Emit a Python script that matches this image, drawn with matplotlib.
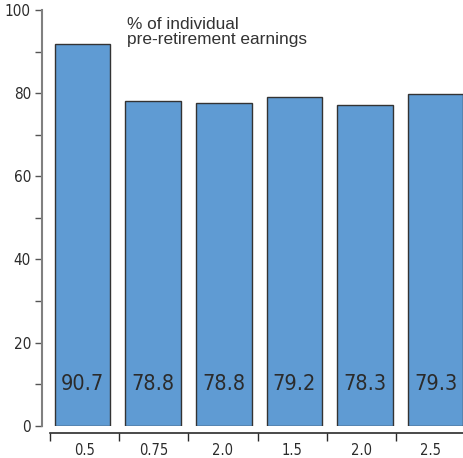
import matplotlib
matplotlib.use("Agg")
import matplotlib.pyplot as plt
from matplotlib.ticker import MultipleLocator, FixedLocator, NullFormatter

# bar heights as drawn, and the numbers printed in the bars
heights = [91.8, 78.1, 77.6, 79.0, 77.1, 79.9]
labels = ["90.7", "78.8", "78.8", "79.2", "78.3", "79.3"]
categories = ["0.5", "0.75", "2.0", "1.5", "2.0", "2.5"]
yticks = [0, 20, 40, 60, 80, 100]

bar_col = "#5f9bd3"
dark = "#2b2b2b"
narrow = dict(family="DejaVu Sans", stretch="condensed")

fig = plt.figure(figsize=(4.63, 4.58), dpi=100)
ax = fig.add_axes([42 / 463, 32.3 / 458, 421 / 463, 415.7 / 458])

xs = range(len(heights))
ax.bar(xs, heights, width=0.785, color=bar_col, edgecolor="#333333", linewidth=1.0, zorder=2)
for x, t in zip(xs, labels):
    ax.text(x, 10, t, ha="center", va="center", fontsize=15.5, color=dark, **narrow)

ax.set_xlim(-0.573, 5.386)
ax.set_ylim(0, 100)
for s in ["top", "right", "bottom"]:
    ax.spines[s].set_visible(False)
ax.spines["left"].set_color("#808080")
ax.spines["left"].set_linewidth(1.5)
ax.set_xticks([])
ax.set_yticks(yticks)
ax.yaxis.set_minor_locator(MultipleLocator(10))
ax.tick_params(axis="y", which="both", length=5, width=1, color="#555555", pad=3)
ax.tick_params(axis="y", which="major", labelsize=11, labelcolor=dark)
for lab in ax.get_yticklabels():
    lab.set_family(narrow["family"])
    lab.set_stretch(narrow["stretch"])

# separate category axis below the bars
ax2 = fig.add_axes([50 / 463, 25 / 458, 413 / 463, 0.001])
ax2.set_xlim(0, 5.97)
ax2.set_ylim(0, 1)
for s in ["top", "right", "left"]:
    ax2.spines[s].set_visible(False)
ax2.spines["bottom"].set_color(dark)
ax2.spines["bottom"].set_linewidth(1.2)
ax2.set_yticks([])
ax2.xaxis.set_major_locator(FixedLocator(range(6)))
ax2.xaxis.set_major_formatter(NullFormatter())
ax2.xaxis.set_minor_locator(FixedLocator([i + 0.5 for i in range(6)]))
ax2.set_xticklabels(categories, minor=True)
ax2.tick_params(axis="x", which="major", length=6, width=1, color=dark, direction="out")
ax2.tick_params(axis="x", which="minor", length=0, pad=7, labelsize=10.5, labelcolor=dark)
for lab in ax2.get_xticklabels(minor=True):
    lab.set_family(narrow["family"])
    lab.set_stretch(narrow["stretch"])

fig.text(127 / 463, 1 - 17 / 458, "% of individual\npre-retirement earnings",
         ha="left", va="top", fontsize=12.4, color="#333333",
         family=["Liberation Sans", "DejaVu Sans"], linespacing=1.0)

fig.savefig("out.png", dpi=100)
